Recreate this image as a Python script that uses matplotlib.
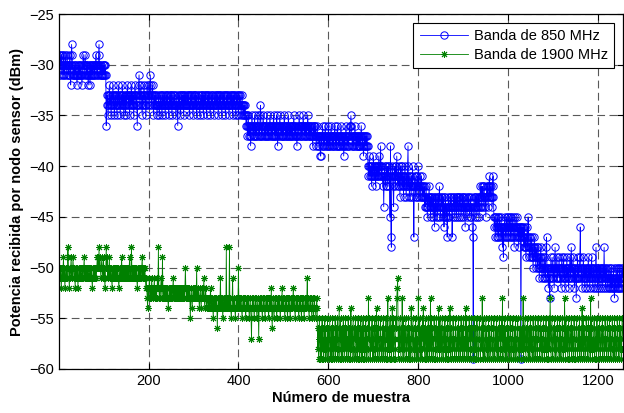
import numpy as np
import matplotlib
matplotlib.use("Agg")
import matplotlib.pyplot as plt

b850_1 = [-29, -31, -30, -29, -30, -31, -29, -30, -30, -31, -29, -30, -31, -30, -29,
          -30, -31, -30, -29, -30, -31, -30, -31, -30, -29, -31, -32, -30, -28, -29,
          -30, -31, -31, -30, -31, -30, -31, -31, -30, -31, -32, -31, -30, -31, -30,
          -31, -30, -31, -31, -30, -31, -32, -31, -30, -29, -30, -31, -30, -29, -30,
          -31, -30, -31, -30, -31, -32, -31, -30, -31, -32, -30, -31, -30, -31, -30,
          -31, -30, -30, -31, -30, -31, -30, -29, -30, -31, -30, -31, -30, -29, -28,
          -30, -31, -30, -31, -30, -31, -31, -30, -31, -30, -31, -30, -31, -30, -31]
b850_2 = [-36, -33, -34, -33, -35, -34, -33, -32, -34, -33, -34, -35, -33, -34, -33, -32, -34, -33, -35, -34, -33, -34, -33,
          -34, -35, -33, -34, -32, -33, -34, -33, -35, -34, -33, -34, -33, -32, -34, -33, -35, -34, -33, -34, -35, -33, -34,
          -33, -32, -33, -34, -33, -34, -35, -33, -34, -33, -32, -34, -33, -34, -33, -35, -34, -33, -32, -33, -34, -33, -34,
          -36, -34, -33, -32, -31, -33, -34, -33, -32, -33, -34, -35, -33, -34, -33, -32, -33, -34, -33, -35, -34, -33, -32,
          -33, -34, -33, -32, -33, -34, -31, -32, -33, -34, -33, -32, -33, -35, -34, -33, -34, -33, -34, -33, -34, -35, -34]
b850_3 = [-34, -33, -34, -35, -34, -33, -34, -33, -34, -35, -33, -34, -33, -34, -34, -33, -35, -34, -33, -34, -33, -34,
          -33, -34, -35, -34, -33, -34, -33, -34, -33, -35, -34, -33, -34, -34, -33, -34, -33, -34, -35, -34, -33, -34,
          -36, -34, -33, -34, -33, -34, -35, -34, -33, -34, -33, -34, -33, -35, -34, -33, -34, -33, -34, -34, -33, -34,
          -33, -34, -33, -34, -35, -34, -33, -34, -33, -34, -33, -34, -35, -34, -33, -33, -34, -33, -34, -33, -35, -34,
          -34, -33, -34, -33, -34, -35, -34, -33, -34, -33, -34, -33, -34, -35, -33, -34, -33, -34, -33, -34, -35, -34,
          -33, -34, -33, -34, -33, -34, -35, -34, -33, -34, -33, -34, -33, -34, -35, -34, -33, -34, -34, -33, -34, -33,
          -34, -33, -35, -34, -33, -34, -33, -34, -33, -34, -35, -34, -33, -34, -33, -34, -33, -34, -35, -34, -33, -34,
          -33, -34, -33, -34, -35, -34, -33, -34, -33, -34, -33, -34, -35, -33, -34, -33, -34, -33, -34, -35, -34, -33,
          -34, -33, -34, -35, -34, -33, -34, -33, -34, -35, -34, -33, -34, -35, -34, -35, -34, -35, -34, -35, -36, -35]
b850_4 = [-36, -37, -36, -35, -37, -36, -37, -36, -38, -37, -36, -35, -36, -37, -36, -37, -36, -35, -37, -36,
          -37, -36, -37, -36, -35, -36, -37, -36, -37, -35, -34, -36, -37, -36, -37, -36, -35, -36, -37, -36,
          -37, -36, -37, -36, -35, -37, -36, -37, -36, -37, -36, -35, -36, -37, -36, -37, -36, -37, -36, -35,
          -36, -37, -36, -37, -36, -37, -35, -36, -38, -37, -36, -37, -36, -35, -36, -37, -36, -37, -36, -37,
          -36, -37, -36, -35, -36, -37, -36, -37, -36, -37, -36, -37, -35, -36, -37, -36, -37, -36, -37, -36,
          -37, -36, -37, -36, -35, -36, -37, -36, -37, -36, -37, -38, -37, -36, -37, -36, -35, -36, -37, -36,
          -36, -37, -36, -37, -36, -35, -36, -37, -36, -37, -36, -37, -36, -37, -36, -35, -36, -37, -36, -37,
          -36, -37, -36, -37, -36, -37, -38, -37, -36, -37, -36, -37, -36, -37, -38, -37, -36, -37, -38, -37,
          -37, -38, -37, -39]
b850_5 = [-39, -37, -38, -37, -36, -37, -38, -37, -38, -37, -36, -37, -38, -37, -38, -37, -38, -36, -37, -38, -37,
          -38, -37, -36, -37, -38, -37, -38, -37, -38, -37, -36, -37, -38, -37, -38, -37, -36, -37, -38, -37, -38,
          -37, -38, -37, -36, -37, -38, -37, -38, -37, -39, -38, -37, -38, -37, -36, -37, -38, -37, -38, -37, -38,
          -37, -36, -37, -36, -35, -36, -37, -38, -37, -38, -37, -38, -37, -36, -37, -38, -37, -38, -37, -38, -37,
          -38, -37, -38, -37, -38, -37, -36, -37, -38, -37, -38, -39, -38, -37, -38, -37, -38, -37, -38, -37, -38]
b850_6 = [-40, -41, -40, -39, -41, -40, -41, -40, -42, -41, -40, -41, -39, -40, -41, -40, -41, -42, -40, -41,
          -40, -41, -40, -41, -39, -40, -41, -40, -38, -40, -41, -40, -41, -42, -41, -44, -41, -40, -41, -42,
          -41, -40, -41, -42, -40, -41, -40, -42, -41, -45, -38, -47, -48, -41, -40, -41, -42, -44, -41, -40,
          -41, -42, -40, -41, -39, -41, -42, -41, -40, -42, -41, -43, -41, -40, -42, -41, -40, -42, -41, -43,
          -41, -42, -40, -41, -42, -43, -41, -42, -40, -38, -42, -41, -43, -42, -41, -42, -43, -41, -42, -40,
          -42, -43, -47, -42, -41, -42, -43, -41, -42, -43, -41, -42, -40, -42, -43, -42, -41, -43, -42, -41,
          -42, -43, -42, -43]
b850_7 = [-43, -42, -44, -43, -44, -42, -43, -44, -45, -43, -44, -43, -42, -44, -43, -45, -44, -43, -44, -43,
          -44, -45, -43, -44, -46, -44, -43, -45, -44, -43, -44, -45, -43, -44, -43, -42, -44, -45, -44, -43,
          -44, -43, -45, -44, -43, -46, -44, -45, -43, -44, -45, -44, -47, -45, -44, -43, -44, -45, -44, -43,
          -44, -43, -44, -47, -45, -44, -43, -44, -43, -45, -44, -43, -44, -45, -43, -44, -43, -44, -45, -43,
          -44, -43, -44, -45, -44, -43, -44, -43, -45, -44, -43, -44, -46, -44, -43, -44, -45, -44, -43, -44,
          -43, -44, -45, -44, -43, -44, -45, -44, -46, -47, -59, -44, -43, -44, -45, -43, -44, -43, -45, -44,
          -43, -44, -43, -45, -44, -43, -42, -43, -44, -42, -43, -42, -44, -43, -42, -43, -44, -43, -45, -43,
          -42, -43, -42, -44, -43, -42, -41, -43, -42, -43, -42, -43, -44, -42, -41, -43]
b850_8 = [-45, -46, -45, -47, -46, -45, -46, -47, -45, -46, -47, -46, -45, -46, -47, -46,
          -45, -47, -46, -48, -46, -49, -47, -46, -45, -46, -47, -46, -45, -47, -46, -45,
          -46, -47, -46, -45, -46, -47, -45, -46, -47, -46, -45, -46, -47, -48, -46, -45,
          -46, -47, -46, -45, -46, -47, -46, -48, -47, -46, -47, -46, -59, -46, -47, -46]
b850_9 = [-47, -46, -48, -47, -46, -48, -47, -49, -48, -47, -46, -48, -45, -47, -48, -49,
          -48, -47, -49, -48, -47, -49, -48, -50, -49, -48, -47, -49, -48, -50, -49, -48,
          -49, -50, -48, -49, -50, -51, -49, -50, -48, -49, -50, -51, -50, -49, -50, -51,
          -50, -49, -51, -50, -48, -47, -50, -51, -50, -52, -51, -50, -53, -51, -50, -49,
          -50, -51, -50, -49, -51, -50, -52, -50, -48, -50, -51, -50, -49, -51, -50, -51,
          -50, -49, -51, -50, -51, -52, -50, -49, -50, -51, -50, -49, -51, -50, -52, -51,
          -50, -51, -49, -50, -51, -50, -52, -51, -50, -49, -51, -50, -48, -50, -51, -50,
          -49, -51, -50, -52, -51, -50, -51, -53, -51, -50, -49, -51, -50, -51, -50, -49,
          -46, -50, -51, -50, -52, -51, -50, -49, -51, -50, -52, -51, -50, -51, -50, -52,
          -51, -50, -49, -51, -50, -52, -51, -50, -51, -49, -50, -51, -52, -50, -51, -50,
          -51, -52, -50, -48, -51, -50, -52, -51, -50, -51, -52, -50, -51, -50, -52, -51,
          -50, -51, -52, -50, -51, -48, -51, -50, -52, -51, -50, -51, -52, -51, -50, -51,
          -52, -51, -50, -52, -51, -50, -52, -51, -52, -51, -50, -52, -53, -51, -52, -51,
          -50, -52, -51, -50, -52, -51, -52, -50, -51, -52, -51, -50, -52, -51, -50, -51]

# Banda de 1900 MHz (dBm)
b1900_1 = [-51, -52, -50, -51, -50, -52, -51, -50, -51, -50, -49, -51, -50, -52, -51, -50, -51, -50, -51, -49, -48, -50,
           -51, -52, -50, -51, -50, -49, -51, -50, -51, -49, -50, -51, -50, -51, -52, -50, -51, -50, -51, -50, -52, -51,
           -50, -51, -50, -51, -50, -51, -51, -50, -51, -50, -51, -50, -49, -51, -50, -51, -50, -51, -50, -51, -50, -51,
           -51, -50, -51, -51, -50, -51, -50, -51, -52, -51, -50, -51, -50, -51, -50, -51, -50, -51, -50, -49, -50, -49,
           -50, -48, -50, -49, -50, -51, -50, -49, -50, -51, -50, -49, -51, -50, -52, -51, -50, -48, -50, -49, -51, -50,
           -51, -50, -49, -51, -50, -51, -50, -51, -52, -50, -51, -50, -51, -50, -51, -50, -51, -50, -51, -50, -51, -50,
           -51, -52, -51, -50, -51, -50, -51, -49, -50, -51, -50, -51, -50, -51, -50, -51, -50, -51, -50, -51, -50, -51,
           -50, -51, -50, -49, -51, -50, -51, -48, -50, -51, -50, -51, -50, -51, -50, -51, -50, -51, -50, -51, -52, -51,
           -50, -51, -50, -51, -50, -51, -50, -51, -50, -49, -51, -50, -51, -50, -51, -50, -51, -52, -51, -52, -53, -54]
b1900_2 = [-52, -53, -52, -51, -52, -53, -52, -53, -51, -52, -53, -52, -53, -52, -51, -53, -52, -53, -52, -53, -52, -51,
           -52, -48, -52, -53, -52, -53, -52, -51, -52, -53, -49, -52, -53, -52, -53, -52, -53, -52, -53, -52, -53, -52,
           -53, -54, -53, -52, -53, -52, -53, -52, -53, -52, -53, -52, -51, -53, -52, -53, -52, -53, -52, -53, -52, -53,
           -52, -53, -52, -53, -52, -53, -52, -53, -52, -53, -52, -53, -52, -53, -52, -53, -52, -50, -52, -53, -52, -53,
           -52, -53, -52, -53, -52, -53, -55, -53, -52, -53, -54, -53, -52, -53, -52, -53, -52, -53, -52, -53, -50, -53,
           -52, -53, -52, -53, -54, -53, -52, -53, -54, -53, -52, -53, -52, -53, -51, -53, -54, -53, -52, -53, -54, -53]
b1900_3 = [-53, -54, -53, -54, -53, -54, -53, -52, -54, -53, -54, -53, -54, -55, -53, -54, -53, -54, -53, -54,
           -53, -54, -56, -54, -53, -54, -53, -54, -53, -51, -54, -53, -54, -53, -55, -54, -53, -54, -53, -54,
           -53, -54, -48, -54, -53, -54, -53, -54, -53, -48, -54, -53, -54, -55, -54, -53, -51, -54, -53, -54,
           -53, -54, -55, -54, -53, -54, -53, -54, -53, -50, -54, -53, -54, -53, -54, -53, -54, -55, -54, -53,
           -54, -53, -54, -53, -54, -55, -54, -53, -54, -53, -54, -53, -54, -55, -54, -53, -54, -55, -57, -54,
           -53, -54, -53, -54, -55, -54, -53, -54, -53, -54, -55, -54, -53, -54, -57, -54, -53, -54, -53, -54,
           -53, -54, -55, -54, -53, -54, -53, -54, -55, -54, -53, -54, -53, -54, -53, -54, -55, -54, -53, -54,
           -53, -54, -52, -54, -56, -54, -53, -54, -55, -54, -53, -54, -53, -54, -55, -54, -53, -54, -53, -54,
           -53, -54, -55, -54, -53, -54, -52, -54, -53, -54, -53, -54, -55, -54, -53, -54, -53, -54, -55, -54,
           -53, -54, -53, -54, -55, -54, -53, -54, -53, -54, -53, -52, -54, -53, -54, -55, -54, -53, -54, -53,
           -54, -53, -54, -55, -54, -53, -54, -53, -54, -55, -54, -53, -54, -53, -54, -55, -54, -53, -54, -53,
           -54, -53, -51, -54, -53, -54, -55, -54, -53, -54, -53, -54, -55, -54, -53, -54, -55, -54, -53, -54,
           -54, -55, -54, -53, -54]
b1900_4 = [-58, -56, -59, -57, -55, -58, -59, -56, -57, -59, -55, -58, -56, -59, -57, -58, -55, -59, -56, -58,
           -57, -59, -55, -58, -56, -59, -57, -55, -58, -59, -56, -57, -59, -55, -58, -56, -59, -57, -58, -55,
           -59, -56, -58, -57, -55, -59, -58, -56, -54, -59, -57, -55, -58, -59, -56, -57, -59, -55, -58, -56,
           -59, -57, -55, -58, -56, -59, -57, -58, -55, -59, -56, -58, -57, -59, -54, -58, -56, -59, -57, -55,
           -58, -59, -56, -57, -55, -59, -58, -56, -57, -59, -55, -58, -56, -59, -57, -58, -55, -59, -56, -57,
           -59, -55, -58, -56, -59, -57, -58, -55, -59, -56, -57, -58, -59, -53, -57, -55, -58, -59, -56, -57,
           -58, -55, -59, -56, -57, -59, -58, -55, -56, -59, -57, -54, -58, -56, -59, -55, -57, -58, -59, -56,
           -55, -58, -57, -59, -56, -58, -55, -59, -57, -56, -58, -59, -55, -57, -56, -59, -53, -58, -56, -57,
           -59, -55, -58, -56, -59, -57, -54, -58, -55, -59, -56, -57, -58, -59, -55, -56, -53, -52, -51, -57,
           -59, -56, -58, -55, -57, -59, -56, -58, -53, -57, -59, -55, -58, -56, -59, -57, -55, -58, -59, -56,
           -57, -58, -55, -59, -56, -57, -59, -58, -54, -56, -59, -57, -55, -58, -56, -59, -57, -58, -55, -59,
           -56, -58, -57, -59, -53, -56, -58, -55, -59, -57, -56, -58, -59, -55, -57, -54, -58, -56, -59, -57,
           -55, -59, -58, -56, -57, -59, -55, -58, -56, -59, -57, -53, -58, -55, -59, -56, -57, -58, -59, -55,
           -57, -56, -59, -58, -55, -57, -59, -56, -58, -54, -57, -59, -55, -58, -56, -59, -57, -55, -58, -59,
           -56, -57, -58, -55, -59, -56, -57, -59, -58, -55, -56, -59, -57, -58, -54, -55, -59, -56, -57, -58,
           -59, -55, -56, -58, -57, -59, -56, -55, -58, -59, -57, -56, -58, -55, -59, -57, -56, -58, -59, -55,
           -57, -58, -56, -59, -55, -58, -57, -59, -56, -54, -58, -55, -59, -57, -56, -58, -59, -55, -57, -56,
           -59, -58, -55, -57, -56, -59, -58, -57, -55, -59, -56, -58, -57, -59, -55, -56, -58, -59, -57, -56,
           -55, -58, -59, -57, -56, -58, -53, -57, -59, -55, -56, -58, -59, -57, -55, -58, -56, -59, -57, -58,
           -55, -59, -56, -57, -58, -59, -55, -56, -58, -57, -59, -56, -55, -58, -59, -57, -56, -58, -55, -59,
           -57, -56, -58, -59, -55, -57, -56, -59, -58, -55, -57, -53, -59, -56, -58, -57, -55, -59, -56, -58,
           -57, -59, -55, -58, -56, -57, -59, -58, -55, -56, -59, -57, -58, -56, -55, -59, -57, -58, -56, -59,
           -55, -57, -58, -59, -56, -55, -58, -57, -59, -56, -58, -55, -57, -59, -56, -58, -57, -53, -59, -56,
           -58, -55, -57, -59, -56, -58, -57, -55, -59, -58, -56, -57, -59, -55, -58, -56, -57, -59, -58, -55,
           -56, -59, -57, -58, -55, -59, -56, -57, -58, -59, -55, -57, -56, -58, -59, -57, -55, -58, -56, -59,
           -57, -58, -55, -56, -59, -57, -58, -56, -55, -59, -57, -58, -56, -59, -55, -57, -58, -53, -56, -59,
           -57, -55, -58, -59, -56, -57, -58, -55, -59, -56, -57, -58, -59, -55, -56, -58, -57, -59, -55, -58,
           -56, -59, -57, -58, -55, -56, -59, -57, -58, -53, -56, -59, -55, -57, -58, -56, -59, -57, -55, -58,
           -59, -56, -57, -58, -55, -59, -56, -58, -57, -59, -55, -56, -58, -59, -57, -56, -55, -58, -59, -57,
           -56, -58, -55, -59, -57, -58, -56, -59, -54, -57, -58, -55, -59, -56, -57, -58, -59, -55, -56, -58,
           -57, -59, -55, -58, -56, -57, -59, -53, -58, -55, -56, -59, -57, -58, -56, -55, -59, -57, -58, -56,
           -59, -55, -57, -58, -56, -59, -57, -55, -58, -59, -56, -57, -58, -55, -59, -56, -57, -58, -59, -55,
           -56, -58, -57, -59, -55, -56, -58, -59, -57, -55, -58, -56, -59, -57, -58, -55, -56, -59, -57, -58,
           -55, -59, -56, -57, -58, -59, -55, -56, -58, -57, -59, -55, -58, -56, -57, -59, -58, -55, -56, -57]

p850 = b850_1 + b850_2 + b850_3 + b850_4 + b850_5 + b850_6 + b850_7 + b850_8 + b850_9
p1900 = b1900_1 + b1900_2 + b1900_3 + b1900_4
n850 = np.arange(1, len(p850) + 1)
n1900 = np.arange(1, len(p1900) + 1)

xticks = [200, 400, 600, 800, 1000, 1200]
yticks = [-60, -55, -50, -45, -40, -35, -30, -25]

plt.rcParams['font.family'] = ['Liberation Sans', 'DejaVu Sans']

fig = plt.figure(figsize=(6.24, 4.13), dpi=100)
ax = fig.add_axes([59/624, 44/413, 564/624, 355/413])

ax.plot(n850, p850, '-o', color='#0000ff', lw=0.6, ms=5.3, mfc='none', mew=0.7,
        label='Banda de 850 MHz')
ax.plot(n1900, p1900, '-', color='#008000', marker=(8, 2, 0), lw=0.6, ms=5.0, mew=0.7,
        label='Banda de 1900 MHz')

ax.set_xlim(1, 1255)
ax.set_ylim(-60, -25)
ax.set_xticks(xticks)
ax.set_yticks(yticks)
ax.grid(True, color='0.35', ls=(0, (7, 4)), lw=0.8)
ax.tick_params(direction='in', top=True, right=True, labelsize=10.5, length=4, width=0.8)
for s in ax.spines.values():
    s.set_linewidth(0.9)

ax.set_xlabel('Número de muestra', fontweight='bold', fontsize=10.5, labelpad=2)
ax.set_ylabel('Potencia recibida por nodo sensor (dBm)', fontweight='bold', fontsize=10.5)

leg = ax.legend(loc='upper right', fancybox=False, edgecolor='k', framealpha=1,
                fontsize=10.5, numpoints=1, handlelength=3.3, handletextpad=0.4,
                borderaxespad=0.6, borderpad=0.45, labelspacing=0.3)
leg.get_frame().set_linewidth(0.8)

fig.savefig('out.png', dpi=100)
